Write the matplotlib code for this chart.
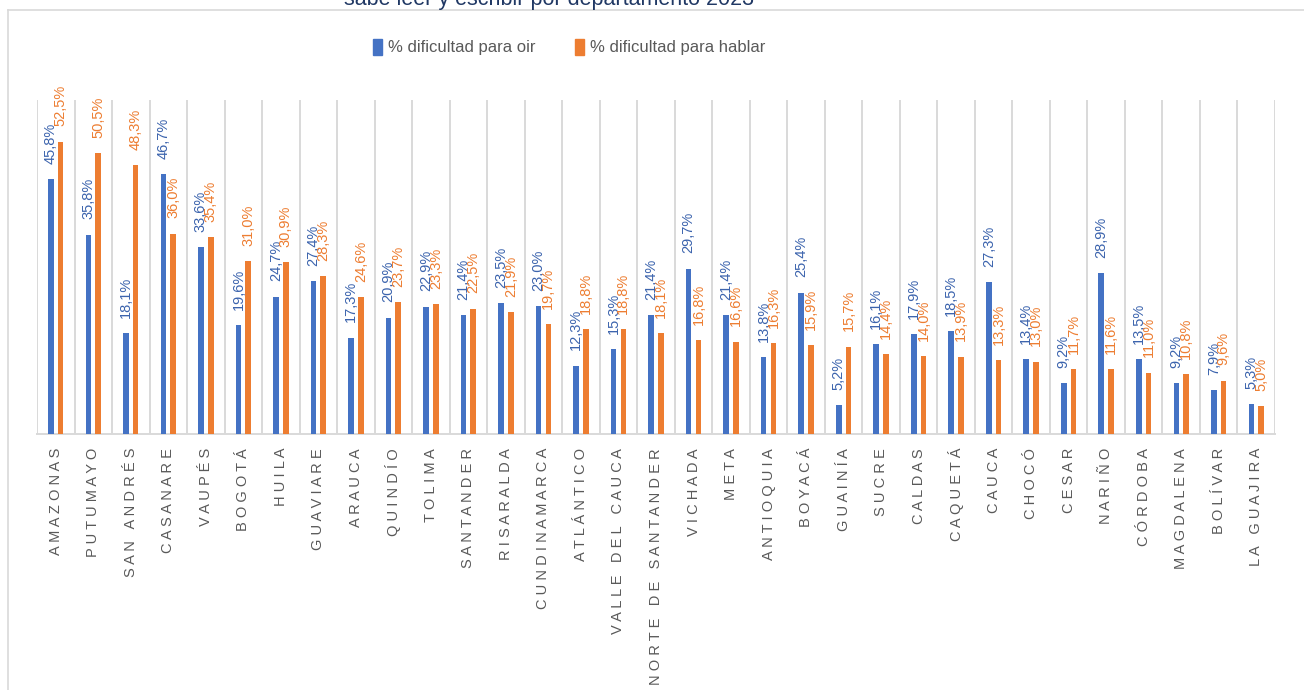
import numpy as np
import matplotlib
matplotlib.use('Agg')
import matplotlib.pyplot as plt
from matplotlib.lines import Line2D
from matplotlib.patches import Patch

departamentos = ["AMAZONAS", "PUTUMAYO", "SAN ANDRÉS", "CASANARE", "VAUPÉS", "BOGOTÁ",
                 "HUILA", "GUAVIARE", "ARAUCA", "QUINDÍO", "TOLIMA", "SANTANDER",
                 "RISARALDA", "CUNDINAMARCA", "ATLÁNTICO", "VALLE DEL CAUCA",
                 "NORTE DE SANTANDER", "VICHADA", "META", "ANTIOQUIA", "BOYACÁ",
                 "GUAINÍA", "SUCRE", "CALDAS", "CAQUETÁ", "CAUCA", "CHOCÓ", "CESAR",
                 "NARIÑO", "CÓRDOBA", "MAGDALENA", "BOLÍVAR", "LA GUAJIRA"]
oir = [45.8, 35.8, 18.1, 46.7, 33.6, 19.6, 24.7, 27.4, 17.3, 20.9, 22.9, 21.4,
       23.5, 23.0, 12.3, 15.3, 21.4, 29.7, 21.4, 13.8, 25.4, 5.2, 16.1, 17.9,
       18.5, 27.3, 13.4, 9.2, 28.9, 13.5, 9.2, 7.9, 5.3]
hablar = [52.5, 50.5, 48.3, 36.0, 35.4, 31.0, 30.9, 28.3, 24.6, 23.7, 23.3, 22.5,
          21.9, 19.7, 18.8, 18.8, 18.1, 16.8, 16.6, 16.3, 15.9, 15.7, 14.4, 14.0,
          13.9, 13.3, 13.0, 11.7, 11.6, 11.0, 10.8, 9.6, 5.0]
series_names = ["% dificultad para oir", "% dificultad para hablar"]
titulo = "sabe leer y escribir por departamento 2023"

AZUL = '#4472C4'
NARANJA = '#ED7D31'
GRIS = '#D9D9D9'

W, H = 1304, 690
fig = plt.figure(figsize=(W / 100, H / 100), dpi=100)
ax = fig.add_axes([37 / W, 1 - 434 / H, (1275 - 37) / W, (434 - 100) / H])

x = np.arange(len(departamentos))
bw = 0.15
ax.bar(x - 0.13, oir, bw, color=AZUL, zorder=3)
ax.bar(x + 0.13, hablar, bw, color=NARANJA, zorder=3)

def fmt(v):
    return f"{v:.1f}".replace('.', ',') + '%'

for xi, v in zip(x, oir):
    ax.annotate(fmt(v), xy=(xi - 0.13, v), xytext=(0, 11), textcoords='offset points',
                rotation=90, ha='center', va='bottom', fontsize=10.5, color='#3B63AD',
                family='Liberation Sans')
for xi, v in zip(x, hablar):
    ax.annotate(fmt(v), xy=(xi + 0.13, v), xytext=(0, 11), textcoords='offset points',
                rotation=90, ha='center', va='bottom', fontsize=10.5, color=NARANJA,
                family='Liberation Sans')

ax.set_xlim(-0.5, len(departamentos) - 0.5)
ax.set_ylim(0, 60)
ax.set_xticks(x)
ax.set_xticklabels([' '.join(d) for d in departamentos], rotation=90, fontsize=10.5,
                   color='#595959', family='Liberation Sans')
ax.set_xticks(np.arange(-0.5, len(departamentos)), minor=True)
ax.tick_params(axis='x', which='both', length=0, pad=10)
ax.set_yticks([])
ax.grid(which='minor', axis='x', color=GRIS, lw=1.4, zorder=0)
for s in ['top', 'left', 'right']:
    ax.spines[s].set_visible(False)
ax.spines['bottom'].set_color(GRIS)
ax.spines['bottom'].set_linewidth(1.4)

# marco del gráfico
fig.add_artist(Line2D([8 / W, 1], [1 - 10 / H, 1 - 10 / H], transform=fig.transFigure,
                      color=GRIS, lw=1.2))
fig.add_artist(Line2D([8 / W, 8 / W], [0, 1 - 10 / H], transform=fig.transFigure,
                      color=GRIS, lw=1.2))

# título cortado arriba, como en la imagen original
fig.text(549 / W, 1 - 5 / H, titulo, ha='center', va='baseline', fontsize=15.5,
         color='#203864', family='Liberation Sans')

handles = [Patch(color=AZUL), Patch(color=NARANJA)]
fig.legend(handles, series_names, loc='center', bbox_to_anchor=(569 / W, 1 - 47 / H),
           ncol=2, frameon=False, handlelength=0.55, handleheight=1.1, handletextpad=0.35,
           columnspacing=2.4, prop={'family': 'Liberation Sans', 'size': 12},
           labelcolor='#595959')

fig.savefig('out.png', dpi=100)
